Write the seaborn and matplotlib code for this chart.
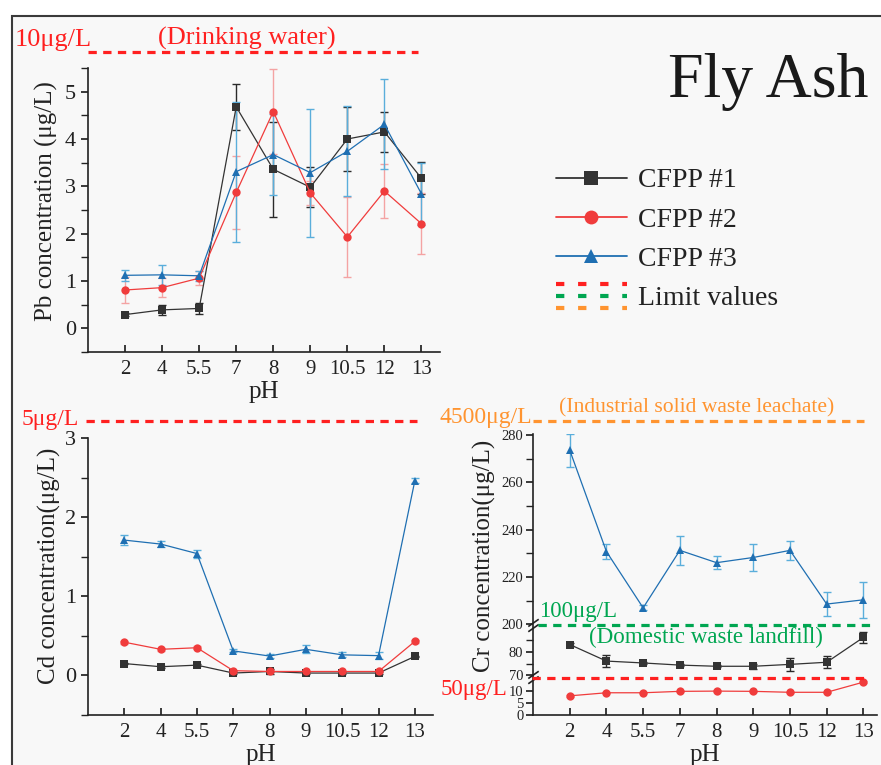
import numpy as np
import pandas as pd
import seaborn as sns
import matplotlib.pyplot as plt
from matplotlib.lines import Line2D
from matplotlib.patches import Rectangle
from matplotlib.path import Path
from matplotlib.legend_handler import HandlerBase
from matplotlib.ticker import FixedLocator, MultipleLocator

# pH steps (categorical positions on the x axis)
ph_labels = ['2', '4', '5.5', '7', '8', '9', '10.5', '12', '13']
plants = ['CFPP #1', 'CFPP #2', 'CFPP #3']

# Pb (ug/L)
pb_1 = [0.29, 0.39, 0.42, 4.68, 3.36, 2.98, 4.00, 4.15, 3.17]
pb_1_err = [0.03, 0.10, 0.12, 0.48, 1.00, 0.42, 0.67, 0.43, 0.34]
pb_2 = [0.81, 0.86, 1.06, 2.87, 4.58, 2.86, 1.93, 2.90, 2.21]
pb_2_err = [0.27, 0.20, 0.15, 0.78, 0.89, 0.25, 0.84, 0.57, 0.64]
pb_3 = [1.12, 1.13, 1.11, 3.31, 3.67, 3.29, 3.74, 4.31, 2.84]
pb_3_err = [0.12, 0.21, 0.10, 1.48, 0.85, 1.35, 0.95, 0.95, 0.66]

# Cd (ug/L)
cd_1 = [0.15, 0.11, 0.13, 0.03, 0.05, 0.03, 0.03, 0.03, 0.24]
cd_1_err = [0.01, 0.01, 0.01, 0.01, 0.03, 0.01, 0.01, 0.01, 0.01]
cd_2 = [0.42, 0.33, 0.35, 0.06, 0.05, 0.05, 0.05, 0.05, 0.43]
cd_2_err = [0.02, 0.02, 0.02, 0.01, 0.01, 0.01, 0.01, 0.01, 0.02]
cd_3 = [1.71, 1.66, 1.54, 0.31, 0.245, 0.33, 0.26, 0.25, 2.46]
cd_3_err = [0.06, 0.04, 0.05, 0.02, 0.02, 0.05, 0.03, 0.04, 0.03]

# Cr (ug/L)
cr_1 = [83.1, 76.1, 75.3, 74.4, 73.9, 73.9, 74.7, 75.6, 86.1]
cr_1_err = [0.5, 2.6, 0.5, 0.5, 0.5, 1.0, 2.6, 2.6, 2.5]
cr_2 = [8.1, 9.4, 9.4, 10.0, 10.1, 10.0, 9.6, 9.6, 13.9]
cr_2_err = [0.3, 0.3, 0.3, 0.3, 0.3, 0.3, 0.3, 0.3, 0.3]
cr_3 = [273.7, 230.8, 207.0, 231.3, 226.1, 228.3, 231.3, 208.6, 210.4]
cr_3_err = [7.0, 3.3, 1.0, 6.2, 2.7, 5.6, 4.0, 5.1, 7.5]

# broken Cr axis: data knots -> drawn knots
cr_knots = [0, 15.5, 70, 91.2, 200, 300]
cr_drawn = [0, 15.5, 16.7, 37.9, 38.3, 138.3]

line_col = {'CFPP #1': '#333333', 'CFPP #2': '#f03c3c', 'CFPP #3': '#1f6fb2'}
err_col = {'CFPP #1': '#2a2a2a', 'CFPP #2': '#f4a3a3', 'CFPP #3': '#5aaedb'}
marks = {'CFPP #1': 's', 'CFPP #2': 'o', 'CFPP #3': '^'}
RED, GREEN, ORANGE = '#ff2020', '#00a651', '#ff9430'

sns.set_theme(style='ticks')
plt.rcParams['font.family'] = ['Liberation Serif', 'DejaVu Serif']

W, H = 881, 765
fig = plt.figure(figsize=(W / 100, H / 100), dpi=100, facecolor='white')


def fx(x):
    return x / W


def fy(y):
    return 1 - y / H


# figure frame
fig.add_artist(Rectangle((fx(12), -0.05), 1.0, fy(16) + 0.05, transform=fig.transFigure,
                         facecolor='#f8f8f8', edgecolor='#3a3a3a', lw=1.5, zorder=-5))


def long_frame(means):
    rows = []
    for name, vals in zip(plants, means):
        for i, v in enumerate(vals):
            rows.append({'plant': name, 'pos': i, 'value': v})
    return pd.DataFrame(rows)


def draw(ax, means, errs, ylabel, ytick_size=16, xlim_right=8.5):
    ax.set_facecolor('none')
    for name, vals, e in zip(plants, means, errs):
        ax.errorbar(np.arange(len(ph_labels)), vals, yerr=e, fmt='none',
                    ecolor=err_col[name], elinewidth=1, capsize=3, capthick=1, zorder=1)
    sns.lineplot(data=long_frame(means), x='pos', y='value', hue='plant', style='plant',
                 markers=marks, dashes=False, palette=line_col, lw=0.9, markersize=6,
                 markeredgewidth=0, legend=False, ax=ax, zorder=3)
    ax.set_xticks(range(len(ph_labels)))
    ax.set_xticklabels(ph_labels)
    ax.set_xlim(-1, xlim_right)
    sns.despine(ax=ax)
    for s in ['left', 'bottom']:
        ax.spines[s].set_color('#222222')
        ax.spines[s].set_linewidth(1.2)
    ax.tick_params(axis='x', direction='in', length=5, labelsize=15, colors='#222222', pad=6)
    ax.tick_params(axis='y', which='both', direction='out', length=5, labelsize=ytick_size,
                   colors='#222222')
    ax.set_xlabel('pH', fontsize=18, color='#222222', labelpad=1)
    ax.set_ylabel(ylabel, fontsize=18, color='#222222')


# ---- Pb ----
ax_pb = fig.add_axes([fx(88), fy(352), fx(352), (352 - 68) / H])
draw(ax_pb, [pb_1, pb_2, pb_3], [pb_1_err, pb_2_err, pb_3_err], 'Pb concentration (μg/L)')
ax_pb.set_ylim(-0.5, 5.5)
ax_pb.yaxis.set_major_locator(FixedLocator([0, 1, 2, 3, 4, 5]))
ax_pb.yaxis.set_minor_locator(MultipleLocator(0.5))
ax_pb.yaxis.set_label_coords(-0.085, 0.53)

# ---- Cd ----
ax_cd = fig.add_axes([fx(88), fy(715), fx(345), (715 - 438) / H])
draw(ax_cd, [cd_1, cd_2, cd_3], [cd_1_err, cd_2_err, cd_3_err], 'Cd concentration(μg/L)')
ax_cd.set_ylim(-0.5, 3)
ax_cd.yaxis.set_major_locator(FixedLocator([0, 1, 2, 3]))
ax_cd.yaxis.set_minor_locator(MultipleLocator(0.5))
ax_cd.yaxis.set_label_coords(-0.078, 0.54)

# ---- Cr (broken axis) ----
ax_cr = fig.add_axes([fx(533), fy(715), fx(344), (715 - 434) / H])
ax_cr.set_yscale('function', functions=(lambda v: np.interp(v, cr_knots, cr_drawn),
                                        lambda v: np.interp(v, cr_drawn, cr_knots)))
draw(ax_cr, [cr_1, cr_2, cr_3], [cr_1_err, cr_2_err, cr_3_err], 'Cr concentration(μg/L)',
     ytick_size=10.5, xlim_right=8.37)
ax_cr.set_ylim(0, 280.5)
ax_cr.yaxis.set_major_locator(FixedLocator([0, 5, 10, 70, 80, 200, 220, 240, 260, 280]))
ax_cr.yaxis.set_minor_locator(FixedLocator([75, 85, 210, 230, 250, 270]))
ax_cr.tick_params(axis='y', which='major', pad=2)
ax_cr.yaxis.set_label_coords(-0.107, 0.568)

# break marks on the Cr y axis
brk = Path([(-1.0, -1.2), (1.0, 0.2), (-1.0, -0.2), (1.0, 1.2)],
           [Path.MOVETO, Path.LINETO, Path.MOVETO, Path.LINETO])
for yb in [42, 145]:
    ax_cr.plot([0], [yb], marker=brk, markersize=9, color='#222222', mew=1.2,
               transform=ax_cr.get_yaxis_transform(), clip_on=False, zorder=5)


# ---- limit lines (drawn above the panels) ----
def limit(x0, x1, y, color):
    fig.add_artist(Line2D([fx(x0), fx(x1)], [fy(y), fy(y)], transform=fig.transFigure,
                          color=color, lw=2.3, ls=(0, (2.6, 2.0)), zorder=4))


def note(x, y, s, color, size, ha='left'):
    fig.text(fx(x), fy(y), s, color=color, fontsize=size, ha=ha, va='center')


limit(88, 418, 52, RED)
note(15, 40, '10μg/L', RED, 19)
note(158, 38, '(Drinking water)', RED, 19)

limit(86, 417, 421, RED)
note(22, 419, '5μg/L', RED, 17)

limit(533, 864, 421, ORANGE)
note(439, 418, '4500μg/L', ORANGE, 17)
note(559, 408, '(Industrial solid waste leachate)', ORANGE, 15.6)

limit(538, 872, 625, GREEN)
note(539, 612, '100μg/L', GREEN, 16.5)
note(589, 637, '(Domestic waste landfill)', GREEN, 16.6)

limit(532, 864, 678, RED)
note(441, 689, '50μg/L', RED, 16.5)

# title
fig.text(fx(869), fy(82), 'Fly Ash', fontsize=46, ha='right', va='center', color='#1a1a1a')


# ---- legend ----
class LimitKey:
    colors = [RED, GREEN, ORANGE]


class StackedDashHandler(HandlerBase):
    def create_artists(self, legend, orig_handle, xdescent, ydescent, width, height,
                       fontsize, trans):
        arts = []
        yc = height / 2 - ydescent
        for k, c in enumerate(orig_handle.colors):
            y = yc + (1 - k) * 0.43 * fontsize
            arts.append(Line2D([-xdescent, width - xdescent], [y, y], color=c, lw=3,
                               ls=(0, (2.0, 3.3)), transform=trans))
        return arts


handles = [Line2D([], [], color=line_col[p], marker=marks[p], markersize=10, lw=1.3, mew=0)
           for p in plants] + [LimitKey()]
fig.legend(handles, plants + ['Limit values'], handler_map={LimitKey: StackedDashHandler()},
           loc='upper left', bbox_to_anchor=(fx(556), fy(168)), frameon=False, fontsize=20,
           handlelength=2.55, handletextpad=0.4, labelspacing=0.5, borderpad=0,
           borderaxespad=0, labelcolor='#222222')

fig.savefig('out.png', dpi=100, facecolor='white')
